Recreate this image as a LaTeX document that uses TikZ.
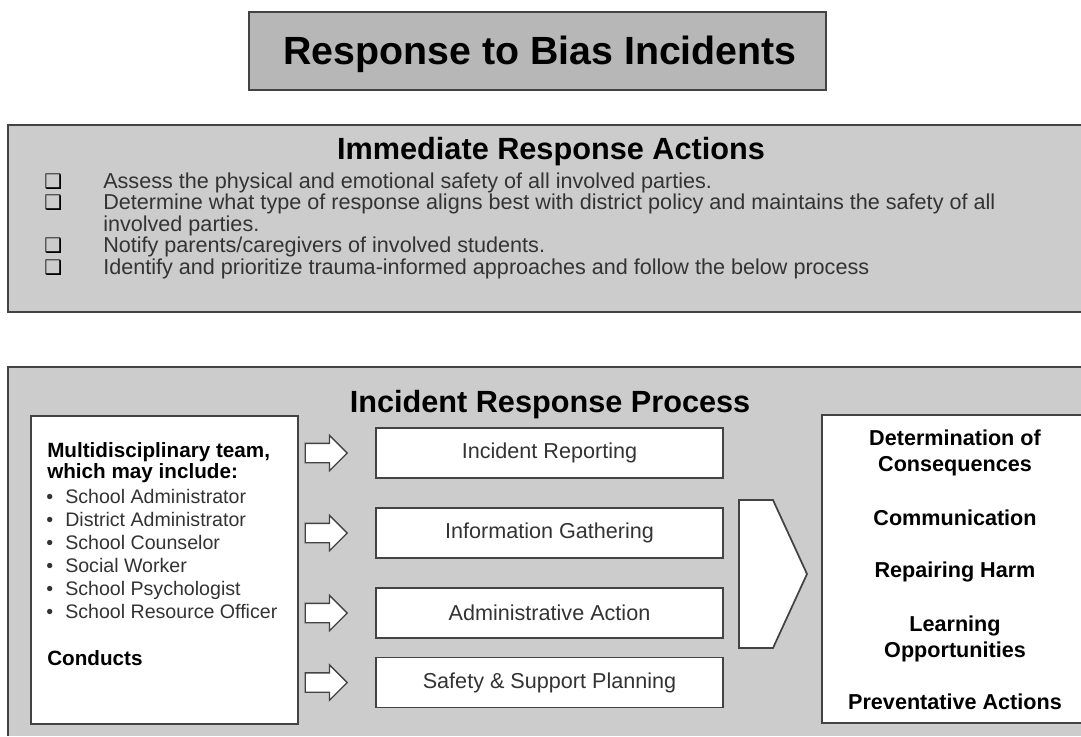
\documentclass[tikz,border=0pt]{standalone}
\usepackage{fontspec}
\setmainfont{Liberation Sans}
\newfontfamily\dejavu{DejaVu Sans}
\usetikzlibrary{positioning,shapes.arrows}

\definecolor{bannergray}{HTML}{B7B7B7}
\definecolor{panelgray}{HTML}{CCCCCC}
\definecolor{edgegray}{HTML}{434343}
\definecolor{textgray}{HTML}{333333}

\newcommand\bannerfont{\fontsize{29.5}{34}\selectfont\bfseries}
\newcommand\headfont{\fontsize{23}{27}\selectfont\bfseries}
\newcommand\bodyfont{\fontsize{16.2}{19}\selectfont\color{textgray}}
\newcommand\listfont{\fontsize{14.7}{17}\selectfont\color{textgray}}
\newcommand\teamfont{\fontsize{15.5}{18}\selectfont\bfseries}
\newcommand\stepfont{\fontsize{16.2}{19}\selectfont\bfseries}

\tikzset{
  panel/.style={draw=edgegray, line width=1.5pt},
  whitebox/.style={draw=edgegray, line width=1.3pt, fill=white, inner sep=0pt},
  phasebox/.style={whitebox, minimum width=260.25pt, minimum height=37.5pt, font=\bodyfont},
  blockarrow/.style={single arrow, draw=edgegray, line width=1pt, fill=white,
    inner xsep=0pt, inner ysep=6.75pt, minimum height=31.5pt,
    single arrow head extend=6pt},
  txt/.style={anchor=base, inner sep=0pt},
  ltxt/.style={anchor=base west, inner sep=0pt}
}

\begin{document}
\begin{tikzpicture}[x=0.75pt,y=-0.75pt]
\useasboundingbox (0,0) rectangle (1081,736);

% banner
\draw [panel, fill=bannergray] (249,12) rectangle (826,90);
\node [txt, font=\bannerfont] (banner) at (540,64) {Response to Bias Incidents};

% immediate actions (runs off the right edge)
\fill [panelgray] (8,125) rectangle (1081,312);
\draw [panel] (1081,125) -- (8,125) -- (8,312) -- (1081,312);
\node [txt, font=\headfont] (immhead) at (551,159) {Immediate Response Actions};
\foreach \y in {188,209.5,252.5,274}
  \node [ltxt, font=\dejavu\fontsize{15}{17}\selectfont] at (44,\y) {❑};
\node [ltxt, font=\bodyfont] (act1) at (103,188) {Assess the physical and emotional safety of all involved parties.};
\node [ltxt, font=\bodyfont] (act2) at (103,209.5) {Determine what type of response aligns best with district policy and maintains the safety of all};
\node [ltxt, font=\bodyfont] (act2b) at (103,231) {involved parties.};
\node [ltxt, font=\bodyfont] (act3) at (103,252.5) {Notify parents/caregivers of involved students.};
\node [ltxt, font=\bodyfont] (act4) at (103,274) {Identify and prioritize trauma-informed approaches and follow the below process};

% incident response process (runs off right and bottom)
\fill [panelgray] (8,367) rectangle (1081,736);
\draw [panel] (1081,367) -- (8,367) -- (8,736);
\node [txt, font=\headfont] (prochead) at (550,412) {Incident Response Process};

% team box
\node [whitebox, anchor=north west, minimum width=200.25pt, minimum height=231pt] (team) at (30,415) {};
\node [ltxt, font=\teamfont] (team1) at (47,457) {Multidisciplinary team,};
\node [ltxt, font=\teamfont] (team2) at (47,478) {which may include:};
\foreach \who [count=\i] in {School Administrator,District Administrator,School Counselor,Social Worker,School Psychologist,School Resource Officer}{
  \node [ltxt, font=\listfont] at (46,480+\i*23) {•};
  \node [ltxt, font=\listfont] (who\i) at (65,480+\i*23) {\who};
}
\node [ltxt, font=\teamfont] (conducts) at (47,665) {Conducts};

% phases
\node [phasebox] (reporting) at (549.5,453) {Incident Reporting};
\node [phasebox] (gathering) at (549.5,533) {Information Gathering};
\node [phasebox] (action) at (549.5,613) {Administrative Action};
\node [phasebox] (planning) at (549.5,682.5) {Safety \& Support Planning};

\foreach \p in {reporting,gathering,action,planning}
  \node [blockarrow, left=20.25pt of \p] (arr-\p) {};

% chevron
\draw [edgegray, line width=1.3pt, fill=white, line join=miter]
  (739,500) -- (773,500) -- (807,574) -- (773,648) -- (739,648) -- cycle;

% outcomes box (open on the right)
\fill [white] (822,415) rectangle (1081,723);
\draw [edgegray, line width=1.3pt] (1081,415) -- (822,415) -- (822,723) -- (1081,723);
\node [txt, font=\stepfont] (out1) at (955,445) {Determination of};
\node [txt, font=\stepfont] (out1b) at (955,471) {Consequences};
\node [txt, font=\stepfont] (out2) at (955,525) {Communication};
\node [txt, font=\stepfont] (out3) at (955,577) {Repairing Harm};
\node [txt, font=\stepfont] (out4) at (955,631) {Learning};
\node [txt, font=\stepfont] (out4b) at (955,657) {Opportunities};
\node [txt, font=\stepfont] (out5) at (955,709) {Preventative Actions};
\end{tikzpicture}
\end{document}
